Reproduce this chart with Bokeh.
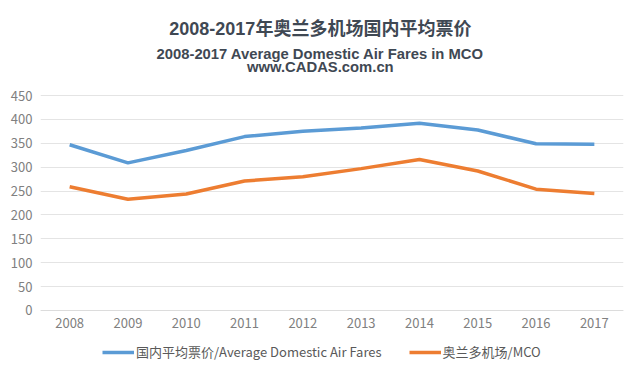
from bokeh.plotting import figure
from bokeh.models import Range1d, Label, Legend, LegendItem, ColumnDataSource
from bokeh.embed import file_html
from bokeh.resources import INLINE

years = ["2008", "2009", "2010", "2011", "2012", "2013", "2014", "2015", "2016", "2017"]
national_avg = [347, 309, 335, 364, 375, 382, 392, 378, 349, 348]
mco = [259, 233, 244, 271, 280, 297, 316, 292, 254, 245]
y_ticks = [0, 50, 100, 150, 200, 250, 300, 350, 400, 450]

title_cn = "2008-2017年奥兰多机场国内平均票价"
title_en = "2008-2017 Average Domestic Air Fares in MCO"
title_url = "www.CADAS.com.cn"
label_nat = "国内平均票价/Average Domestic Air Fares"
label_mco = "奥兰多机场/MCO"

W, H = 640, 373
# The frame spans the whole figure height: the value axis only ticks 0-450, the x axis
# is fixed at y=0, and titles/legend sit inside the frame above and below the data.
p = figure(width=W, height=H, x_range=years, y_range=Range1d(-132, 649),
           output_backend="svg", toolbar_location=None,
           min_border_left=40, min_border_right=17, min_border_top=0, min_border_bottom=0)
p.outline_line_color = None
p.border_fill_color = "white"
p.background_fill_color = "white"

src = ColumnDataSource(dict(x=years, nat=national_avg, mco=mco))
r1 = p.line("x", "nat", source=src, line_color="#5b9bd5", line_width=3.5)
r2 = p.line("x", "mco", source=src, line_color="#ed7d31", line_width=3.5)

font = "Noto Sans CJK SC"
p.yaxis.ticker = y_ticks
p.yaxis.axis_line_color = None
p.yaxis.major_tick_line_color = None
p.yaxis.minor_tick_line_color = None
p.yaxis.major_tick_out = 0
p.yaxis.major_tick_in = 0
p.yaxis.major_label_text_font = font
p.yaxis.major_label_text_font_size = "13px"
p.yaxis.major_label_text_color = "#808080"
p.yaxis.major_label_standoff = 8

p.xaxis.fixed_location = 0
p.xaxis.axis_line_color = "#dcdcdc"
p.xaxis.major_tick_line_color = None
p.xaxis.minor_tick_line_color = None
p.xaxis.major_tick_out = 0
p.xaxis.major_tick_in = 0
p.xaxis.major_label_text_font = font
p.xaxis.major_label_text_font_size = "13px"
p.xaxis.major_label_text_color = "#808080"
p.xaxis.major_label_standoff = 8

p.xgrid.grid_line_color = None
p.ygrid.grid_line_color = "#e4e4e4"

tc = "#3f4853"
en_font = "Liberation Sans"
title_x = 4.80
for txt, fnt, fs, yv in [(title_cn, "Liberation Sans, Noto Sans CJK SC", "18px", 590),
                         (title_en, en_font, "14.8px", 538),
                         (title_url, en_font, "14.8px", 509)]:
    p.add_layout(Label(x=title_x, y=yv, text=txt, text_font=fnt, text_font_size=fs,
                       text_font_style="bold", text_color=tc,
                       text_align="center", text_baseline="middle"))

legend = Legend(items=[LegendItem(label=label_nat, renderers=[r1]),
                       LegendItem(label=label_mco, renderers=[r2])],
                orientation="horizontal", location=(62, 12),
                label_text_font=font, label_text_font_size="13px", label_text_color="#595959",
                glyph_width=32, glyph_height=16, label_height=16, label_standoff=2,
                spacing=27, padding=0, margin=0,
                border_line_color=None, background_fill_alpha=0)
p.add_layout(legend, "center")

open("out.html", "w").write(file_html(p, INLINE))
